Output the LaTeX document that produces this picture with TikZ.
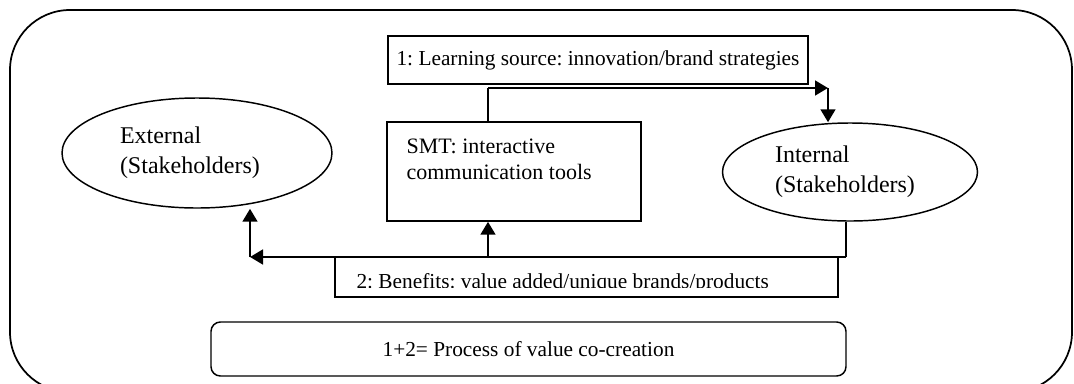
\documentclass[tikz,border=0pt]{standalone}
\usepackage{fontspec}
\setmainfont{Liberation Serif}
\usetikzlibrary{positioning, calc, shapes.geometric, arrows.meta}
\frenchspacing

\begin{document}
\begin{tikzpicture}[x=0.75pt, y=-0.75pt]
\tikzset{
    plainbox/.style={
        draw=black,
        line width=1.1pt,
        inner sep=0pt,
    },
    stakeholder/.style={
        draw=black,
        ellipse,
        line width=1.1pt,
        inner sep=0pt,
        align=left,
        font=\fontsize{18}{22.5}\selectfont,
    },
    flow/.style={
        draw=black,
        line width=2pt,
        -{Triangle[length=9.75pt, width=11pt]},
    },
    stem/.style={
        draw=black,
        line width=1.2pt,
    },
    font=\fontsize{16}{20}\selectfont,
}
    \useasboundingbox (0,0) rectangle (1074,383);

    % outer frame
    \draw[line width=1.3pt, rounded corners=45pt] (10,10) rectangle (1072,392);

    \node[plainbox, minimum width=315pt, minimum height=36pt] (learn) at (598,60) {1: Learning source: innovation/brand strategies};
    \node[plainbox, minimum width=190.5pt, minimum height=74.25pt] (smt) at (514,171.5) {};
    \node[anchor=north west, inner sep=0pt, align=left, font=\fontsize{16.5}{19.5}\selectfont] (smttext) at ($(smt.north west)+(20,17)$) {SMT: interactive\\communication tools};

    % stakeholders
    \node[stakeholder, text width=115.5pt, minimum width=202.5pt, minimum height=82.5pt] (ext) at (197,153) {External\\(Stakeholders)};
    \node[stakeholder, text width=112.5pt, minimum width=191.25pt, minimum height=73.5pt] (int) at (850,172) {Internal\\(Stakeholders)};

    % benefits, text cut at the bottom
    \node[plainbox, minimum width=377.25pt, minimum height=30pt] (benefit) at (586.5,277) {};
    \begin{scope}
        \clip (benefit.north west) rectangle ($(benefit.south east)+(0,-10)$);
        \node[anchor=base west, inner sep=0pt] (benefittext) at ($(benefit.west)+(22,11)$) {2: Benefits: value added/unique brands/products};
    \end{scope}

    \node[plainbox, rounded corners=7pt, minimum width=476.25pt, minimum height=40.5pt] (process) at (528.5,349) {1+2= Process of value co-creation};

    % arrows
    \coordinate (bend) at (488,88);
    \coordinate (corner) at (828,88);
    \coordinate (intfoot) at (846,257);
    \coordinate (extfoot) at (250,257);
    \coordinate (smtfoot) at (488,257);

    \draw[stem] (smt.north -| bend) -- (bend);
    \draw[flow] (bend) -- (corner);
    \draw[flow] (corner) -- (int.north -| corner);

    \draw[stem] (int.south -| intfoot) -- (intfoot);
    \draw[flow] (intfoot) -- (extfoot);
    \draw[flow] (extfoot) -- (ext.south -| extfoot);
    \draw[flow] (smtfoot) -- (smt.south -| smtfoot);

\end{tikzpicture}
\end{document}
